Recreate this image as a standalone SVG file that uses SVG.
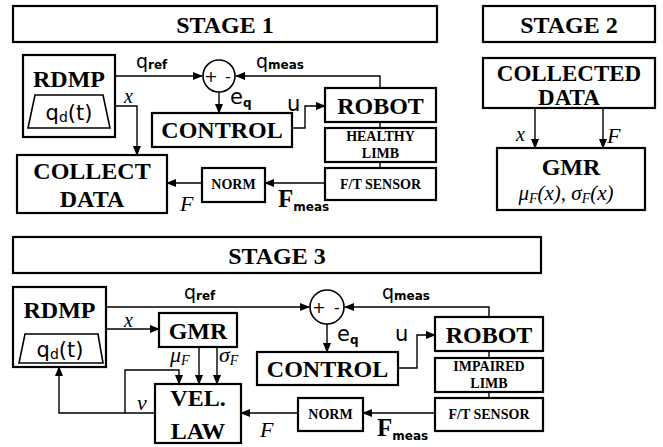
<svg xmlns="http://www.w3.org/2000/svg" width="663" height="447" viewBox="0 0 663 447">
<defs>
<marker id="ah" markerWidth="10" markerHeight="8" refX="9" refY="4" orient="auto" markerUnits="userSpaceOnUse">
<path d="M0,0 L10,4 L0,8 Z" fill="#000"/>
</marker>
<style>
.box{fill:#fff;stroke:#000;stroke-width:2.2}
.ln{fill:none;stroke:#000;stroke-width:1.4}
.ar{fill:none;stroke:#000;stroke-width:1.4;marker-end:url(#ah)}
.big{font-family:"Liberation Serif","Times New Roman",serif;font-weight:bold;font-size:24px;text-anchor:middle;fill:#000}
.sm{font-family:"Liberation Serif","Times New Roman",serif;font-weight:bold;font-size:14px;text-anchor:middle;fill:#000}
.m{font-family:"DejaVu Sans",sans-serif;font-size:19px;fill:#000}
.ms{font-family:"DejaVu Sans",sans-serif;font-size:12px;font-weight:bold;fill:#000}
.it{font-family:"Liberation Serif","Times New Roman",serif;font-style:italic;font-size:22px;fill:#000}
.its{font-family:"Liberation Serif","Times New Roman",serif;font-style:italic;font-size:14px;fill:#000}
.fb{font-family:"Liberation Serif","Times New Roman",serif;font-weight:bold;font-size:25px;fill:#000}
</style>
</defs>

<!-- STAGE 1 -->
<g id="stage1-header"><rect class="box" x="13" y="6" width="424" height="36"/><text class="big" x="225" y="33">STAGE 1</text></g>
<g id="s1-rdmp"><rect class="box" x="23" y="55" width="92" height="82"/><text class="big" x="69" y="87">RDMP</text>
<polygon class="ln" style="stroke-width:1.6" points="35,95 103,95 110,128 28,128"/>
<text class="m" x="69" y="120" text-anchor="middle" style="font-size:21px">q<tspan style="font-size:14px" dy="2">d</tspan><tspan dy="-2">(t)</tspan></text></g>
<g id="s1-sum"><circle cx="219" cy="76" r="16" fill="#fff" stroke="#000" stroke-width="1.6"/><text class="m" x="211" y="82" text-anchor="middle" style="font-size:16px">+</text><text class="m" x="228" y="82" text-anchor="middle" style="font-size:16px">-</text></g>
<g id="s1-control"><rect class="box" x="152" y="113" width="140" height="34"/><text class="big" x="222" y="138">CONTROL</text></g>
<g id="s1-robot"><rect class="box" x="325" y="88" width="111" height="34"/><text class="big" x="380.5" y="114">ROBOT</text></g>
<g id="s1-limb"><rect class="box" x="325" y="128" width="111" height="34"/><text class="sm" x="380.5" y="141">HEALTHY</text><text class="sm" x="380.5" y="158">LIMB</text></g>
<g id="s1-ft"><rect class="box" x="325" y="168" width="111" height="32"/><text class="sm" x="380.5" y="189">F/T SENSOR</text></g>
<g id="s1-norm"><rect class="box" x="202" y="168" width="63" height="34"/><text class="sm" x="233.5" y="189">NORM</text></g>
<g id="s1-collect"><rect class="box" x="17" y="155" width="150" height="58"/><text class="big" x="92" y="179">COLLECT</text><text class="big" x="92" y="207">DATA</text></g>

<!-- STAGE 2 -->
<g id="stage2-header"><rect class="box" x="483" y="6" width="172" height="36"/><text class="big" x="569" y="33">STAGE 2</text></g>
<g id="s2-collected"><rect class="box" x="483" y="58" width="172" height="50"/><text class="big" x="569" y="81" style="font-size:23px">COLLECTED</text><text class="big" x="569" y="105" style="font-size:23px">DATA</text></g>
<g id="s2-gmr"><rect class="box" x="497" y="148" width="148" height="62"/><text class="big" x="571" y="175">GMR</text>
<text class="it" x="566" y="200" text-anchor="middle" style="font-size:21px">μ<tspan class="its" dy="3">F</tspan><tspan dy="-3">(x), σ</tspan><tspan class="its" dy="3">F</tspan><tspan dy="-3">(x)</tspan></text></g>

<!-- STAGE 3 -->
<g id="stage3-header"><rect class="box" x="13" y="237" width="528" height="36"/><text class="big" x="277" y="264">STAGE 3</text></g>
<g id="s3-rdmp"><rect class="box" x="13" y="287" width="93" height="80"/><text class="big" x="59.5" y="318">RDMP</text>
<polygon class="ln" style="stroke-width:1.6" points="25,334 98,334 103,363 19,363"/>
<text class="m" x="60" y="357" text-anchor="middle" style="font-size:21px">q<tspan style="font-size:14px" dy="2">d</tspan><tspan dy="-2">(t)</tspan></text></g>
<g id="s3-gmr"><rect class="box" x="159" y="313" width="78" height="34"/><text class="big" x="198" y="339">GMR</text></g>
<g id="s3-vel"><rect class="box" x="155" y="384" width="86" height="59"/><text class="big" x="198" y="406">VEL.</text><text class="big" x="198" y="439">LAW</text></g>
<g id="s3-sum"><circle cx="327" cy="307" r="17" fill="#fff" stroke="#000" stroke-width="1.6"/><text class="m" x="319" y="313" text-anchor="middle" style="font-size:16px">+</text><text class="m" x="337" y="313" text-anchor="middle" style="font-size:16px">-</text></g>
<g id="s3-control"><rect class="box" x="257" y="352" width="141" height="33"/><text class="big" x="327.5" y="377">CONTROL</text></g>
<g id="s3-robot"><rect class="box" x="435" y="317" width="108" height="34"/><text class="big" x="489" y="343">ROBOT</text></g>
<g id="s3-limb"><rect class="box" x="435" y="358" width="108" height="34"/><text class="sm" x="489" y="371">IMPAIRED</text><text class="sm" x="489" y="388">LIMB</text></g>
<g id="s3-ft"><rect class="box" x="435" y="398" width="108" height="33"/><text class="sm" x="489" y="419">F/T SENSOR</text></g>
<g id="s3-norm"><rect class="box" x="298" y="398" width="65" height="33"/><text class="sm" x="330.5" y="419">NORM</text></g>

<!-- CONNECTORS -->
<g id="connectors">
<path class="ar" d="M115,76 H202"/>
<path class="ar" d="M380,88 V76 H236"/>
<path class="ar" d="M219,92 V113"/>
<path class="ar" d="M292,128 H305 V106 H325"/>
<path class="ln" d="M380,122 V128 M380,162 V168"/>
<path class="ar" d="M325,183 H265"/>
<path class="ar" d="M202,183 H167"/>
<path class="ar" d="M115,106 H137 V155"/>
<path class="ar" d="M535,108 V148"/>
<path class="ar" d="M603,108 V148"/>
<path class="ar" d="M106,307 H309"/>
<path class="ar" d="M489,317 V307 H345"/>
<path class="ar" d="M327,324 V352"/>
<path class="ar" d="M398,368 H417 V335 H435"/>
<path class="ln" d="M489,351 V358 M489,392 V398"/>
<path class="ar" d="M435,413 H363"/>
<path class="ar" d="M298,413 H241"/>
<path class="ar" d="M106,329 H159"/>
<path class="ar" d="M199,347 V384"/>
<path class="ar" d="M217,347 V384"/>
<path class="ar" d="M155,413 H59 V367"/>
<path class="ar" d="M125,413 V370 H179 V384"/>
</g>

<!-- CONNECTOR LABELS -->
<g id="labels">
<text class="m" x="136" y="68">q<tspan class="ms" dy="1">ref</tspan></text>
<text class="m" x="256" y="68">q<tspan class="ms" dy="1">meas</tspan></text>
<text class="m" x="230" y="104" style="font-size:21px">e<tspan class="ms" dy="3">q</tspan></text>
<text class="m" x="287" y="111" style="font-size:21px">u</text>
<text class="fb" x="278" y="207">F<tspan class="ms" dy="4">meas</tspan></text>
<text class="it" x="180" y="211">F</text>
<text class="it" x="124" y="103" style="font-size:20px">x</text>
<text class="it" x="516" y="141" style="font-size:20px">x</text>
<text class="it" x="607" y="143">F</text>
<text class="m" x="184" y="299">q<tspan class="ms" dy="1">ref</tspan></text>
<text class="m" x="382" y="299">q<tspan class="ms" dy="1">meas</tspan></text>
<text class="m" x="337" y="341" style="font-size:21px">e<tspan class="ms" dy="3">q</tspan></text>
<text class="m" x="395" y="341" style="font-size:21px">u</text>
<text class="fb" x="377" y="436">F<tspan class="ms" dy="4">meas</tspan></text>
<text class="it" x="260" y="437">F</text>
<text class="it" x="124" y="327" style="font-size:20px">x</text>
<text class="it" x="170" y="362">μ<tspan class="its" dy="3">F</tspan></text>
<text class="it" x="219" y="362">σ<tspan class="its" dy="3">F</tspan></text>
<text class="it" x="137" y="410">ν</text>
</g>
</svg>
